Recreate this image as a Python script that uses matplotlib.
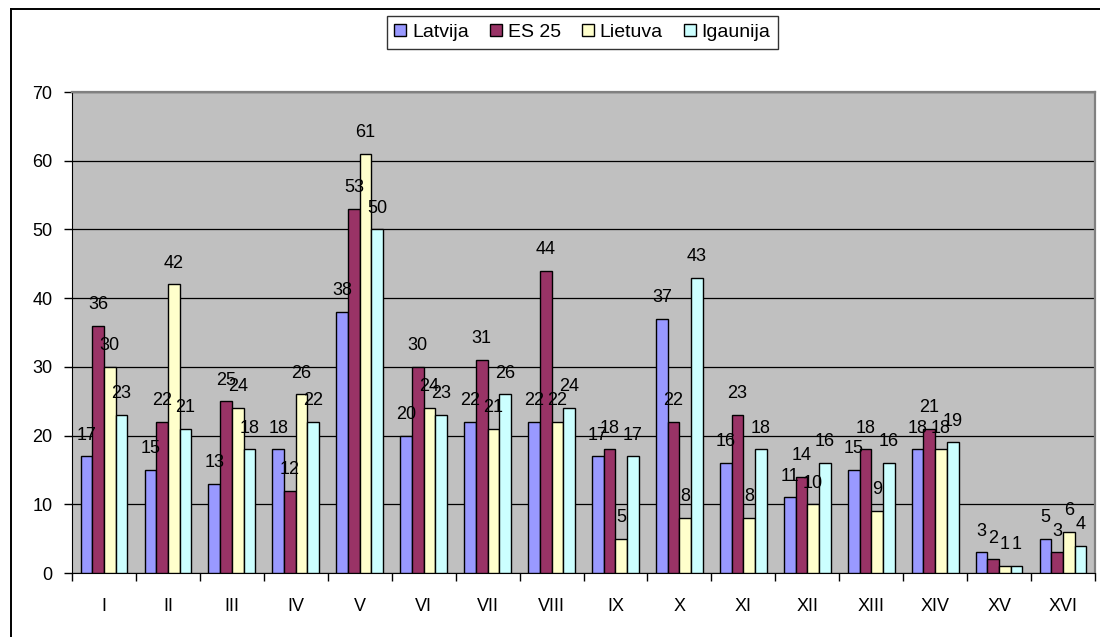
import numpy as np
import matplotlib.pyplot as plt
from matplotlib.lines import Line2D

plt.rcParams['font.family'] = ['Liberation Sans', 'DejaVu Sans']

categories = ['I', 'II', 'III', 'IV', 'V', 'VI', 'VII', 'VIII',
              'IX', 'X', 'XI', 'XII', 'XIII', 'XIV', 'XV', 'XVI']
latvija = [17, 15, 13, 18, 38, 20, 22, 22, 17, 37, 16, 11, 15, 18, 3, 5]
es25 = [36, 22, 25, 12, 53, 30, 31, 44, 18, 22, 23, 14, 18, 21, 2, 3]
lietuva = [30, 42, 24, 26, 61, 24, 21, 22, 5, 8, 8, 10, 9, 18, 1, 6]
igaunija = [23, 21, 18, 22, 50, 23, 26, 24, 17, 43, 18, 16, 16, 19, 1, 4]

series = [('Latvija', latvija, '#9999FF'),
          ('ES 25', es25, '#993366'),
          ('Lietuva', lietuva, '#FFFFCC'),
          ('Igaunija', igaunija, '#CCFFFF')]

fig = plt.figure(figsize=(11, 6.37), dpi=100)
ax = fig.add_axes([72 / 1100, 1 - 573 / 637, (1095 - 72) / 1100, (573 - 92) / 637])
ax.set_facecolor('#C0C0C0')

x = np.arange(len(categories))
w = 0.183
for i, (name, vals, col) in enumerate(series):
    pos = x + (i - 1.5) * w
    ax.bar(pos, vals, w, color=col, edgecolor='black', linewidth=1.0,
           label=name, zorder=3)
    for xp, v in zip(pos, vals):
        ax.annotate(str(v), (xp, v), xytext=(0, 12), textcoords='offset points',
                    ha='center', va='baseline', fontsize=13, zorder=5)

ax.set_xlim(-0.5, len(categories) - 0.5)
ax.set_ylim(0, 70)
ax.set_yticks(range(0, 71, 10))
ax.yaxis.grid(True, color='black', linewidth=0.9, zorder=1)
ax.set_axisbelow(True)

ax.set_xticks(np.arange(-0.5, len(categories), 1))
ax.set_xticklabels([])
ax.set_xticks(x, minor=True)
ax.set_xticklabels(categories, minor=True)
ax.tick_params(axis='x', which='major', direction='out', length=6, width=1)
ax.tick_params(axis='x', which='minor', length=0, pad=18, labelsize=13)
ax.tick_params(axis='y', direction='out', length=6, width=1, pad=8, labelsize=13)

ax.spines['left'].set_color('black')
ax.spines['bottom'].set_color('black')
ax.spines['top'].set_color('#808080')
ax.spines['right'].set_color('#808080')
ax.spines['top'].set_linewidth(1.6)
ax.spines['right'].set_linewidth(1.6)

leg = fig.legend(loc='center', bbox_to_anchor=(582.5 / 1100, 1 - 32.5 / 637), ncol=4,
                 fontsize=14, frameon=True, fancybox=False, edgecolor='black',
                 handlelength=0.6, handleheight=0.6, handletextpad=0.3,
                 columnspacing=1.1, borderpad=0.4, borderaxespad=0)
leg.get_frame().set_linewidth(1.0)

# outer chart border
fig.add_artist(Line2D([10.5 / 1100, 10.5 / 1100], [0, 1 - 8.5 / 637],
                      color='black', linewidth=1.4, transform=fig.transFigure))
fig.add_artist(Line2D([10.5 / 1100, 1], [1 - 8.5 / 637, 1 - 8.5 / 637],
                      color='black', linewidth=1.4, transform=fig.transFigure))

fig.savefig('out.png', dpi=100)
